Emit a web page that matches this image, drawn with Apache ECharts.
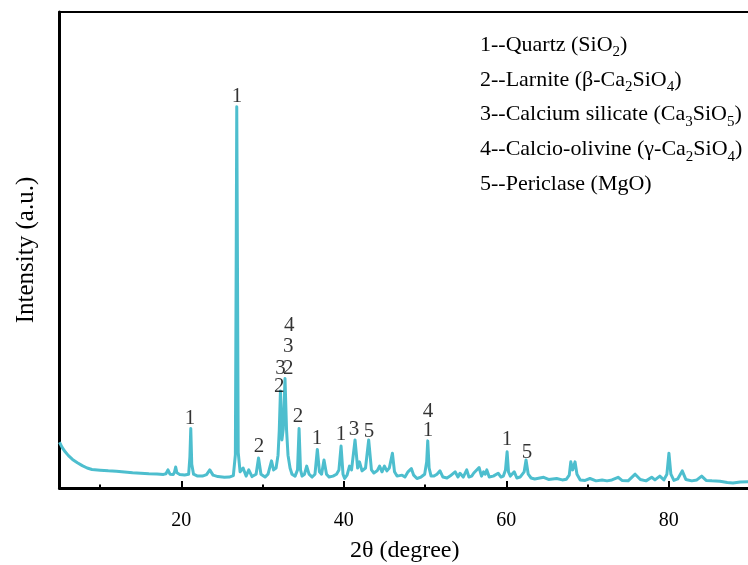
<!DOCTYPE html>
<html>
<head>
<meta charset="utf-8">
<script src="https://cdn.jsdelivr.net/npm/echarts@6/dist/echarts.min.js"></script>
<style>
  html, body { margin: 0; padding: 0; background: #fff; }
  #chart { width: 748px; height: 565px; }
</style>
</head>
<body>
<div id="chart"></div>
<script>
// XRD pattern: [2θ (degree), intensity (a.u.)]
const pattern = [
  [5.0, 9.6], [5.3, 8.6], [5.7, 7.6], [6.1, 6.8], [6.6, 6.0], [7.2, 5.3], [7.8, 4.7],
  [8.4, 4.2], [9.0, 3.9], [10.0, 3.75], [11.0, 3.6], [12.0, 3.5], [13.0, 3.35],
  [14.0, 3.2], [15.0, 3.1], [16.0, 3.0], [17.0, 2.95], [17.8, 2.85], [18.1, 3.0],
  [18.35, 3.8], [18.6, 2.9], [19.0, 2.85], [19.15, 3.3], [19.3, 4.4], [19.45, 3.2],
  [19.8, 2.85], [20.4, 2.75], [20.9, 2.9], [21.05, 6.5], [21.16, 12.5], [21.28, 5.0],
  [21.5, 2.9], [22.0, 2.5], [22.6, 2.5], [23.1, 2.8], [23.5, 3.8], [23.9, 2.7],
  [24.5, 2.4], [25.3, 2.25], [25.9, 2.3], [26.4, 2.6], [26.65, 7.0], [26.76, 52],
  [26.82, 80.1], [26.9, 50], [27.0, 7.5], [27.23, 3.4], [27.6, 4.2], [27.97, 2.5],
  [28.3, 3.8], [28.7, 2.4], [29.2, 2.9], [29.5, 6.3], [29.8, 2.9], [30.3, 2.3],
  [30.67, 2.9], [31.1, 5.7], [31.35, 3.8], [31.66, 4.2], [31.9, 6.9], [32.05, 12],
  [32.2, 20.4], [32.38, 10.1], [32.55, 12.5], [32.76, 23.0], [32.95, 12.2],
  [33.13, 6.9], [33.38, 4.2], [33.62, 2.9], [34.0, 2.5], [34.3, 3.8], [34.49, 12.5],
  [34.67, 3.8], [34.86, 2.5], [35.16, 2.9], [35.43, 4.6], [35.72, 2.9], [36.1, 2.3],
  [36.45, 2.9], [36.74, 8.1], [37.0, 3.4], [37.26, 2.9], [37.56, 5.9], [37.87, 2.9],
  [38.18, 2.3], [38.67, 2.5], [39.1, 2.9], [39.4, 3.8], [39.66, 8.8], [39.9, 2.9],
  [40.1, 2.0], [40.4, 2.7], [40.7, 4.6], [40.95, 3.8], [41.38, 10.1], [41.7, 4.2],
  [41.93, 5.5], [42.24, 3.6], [42.67, 4.2], [43.06, 10.1], [43.4, 3.8], [43.7, 3.15],
  [44.1, 3.6], [44.4, 4.6], [44.7, 3.4], [45.0, 4.6], [45.3, 3.6], [45.6, 4.2],
  [45.98, 7.3], [46.24, 3.4], [46.55, 2.5], [47.17, 2.7], [47.53, 2.3], [47.9, 3.4],
  [48.31, 4.1], [48.6, 2.7], [49.0, 2.0], [49.5, 2.3], [49.95, 2.9], [50.2, 5.5],
  [50.33, 9.9], [50.5, 4.2], [50.74, 2.5], [51.1, 2.5], [51.47, 2.9], [51.84, 3.6],
  [52.2, 2.3], [52.7, 2.1], [53.07, 2.5], [53.7, 3.4], [54.05, 2.3], [54.3, 3.1],
  [54.7, 2.3], [55.13, 3.8], [55.4, 2.3], [55.74, 2.5], [56.0, 3.15], [56.65, 4.3],
  [56.95, 2.5], [57.2, 3.4], [57.4, 2.9], [57.6, 3.8], [57.9, 2.3], [58.4, 2.5],
  [59.0, 3.1], [59.35, 2.3], [59.64, 2.5], [59.9, 3.8], [60.1, 7.6], [60.27, 3.4],
  [60.5, 2.5], [60.98, 3.4], [61.3, 2.1], [61.7, 2.3], [62.2, 3.4], [62.43, 5.9],
  [62.7, 2.9], [63.05, 2.1], [63.5, 1.9], [64.6, 2.25], [65.2, 1.8], [66.2, 2.0],
  [66.9, 1.7], [67.4, 1.85], [67.75, 2.7], [67.94, 5.5], [68.17, 3.8], [68.46, 5.5],
  [68.7, 2.9], [69.1, 1.7], [69.7, 1.6], [70.3, 2.0], [71.05, 1.5], [71.8, 1.7],
  [72.4, 1.5], [73.0, 1.7], [73.76, 2.25], [74.24, 1.6], [75.0, 1.5], [75.86, 2.9],
  [76.5, 1.8], [77.2, 1.5], [77.9, 2.25], [78.3, 1.7], [78.9, 2.5], [79.4, 1.7],
  [79.77, 2.9], [80.02, 7.3], [80.26, 2.9], [80.63, 1.6], [81.1, 1.9], [81.66, 3.6],
  [82.1, 1.8], [82.83, 1.5], [83.46, 1.7], [84.05, 2.5], [84.6, 1.6], [85.3, 1.5],
  [86.3, 1.4], [87.2, 1.15], [87.9, 1.05], [88.8, 1.25], [90.0, 1.3]
];

// Phase markers above the reflections (data coordinates of each number)
const markTheta     = [21.07, 26.86, 29.56, 32.06, 32.21, 33.17, 33.17, 33.29, 34.36, 36.7, 39.66, 41.26, 43.1, 50.36, 50.36, 60.08, 62.54];
const markIntensity = [14.7, 82.35, 8.82, 21.4, 25.2, 25.2, 29.7, 34.2, 15.1, 10.5, 11.3, 12.2, 11.8, 16.0, 12.0, 10.1, 7.56];
const markText      = ['1', '1', '2', '2', '3', '2', '3', '4', '2', '1', '1', '3', '5', '4', '1', '1', '5'];

const majorTicks = [20, 40, 60, 80];
const minorTicks = [10, 30, 50, 70];

const phaseKey = [
  '1--Quartz (SiO{s|2})',
  '2--Larnite (β-Ca{s|2}SiO{s|4})',
  '3--Calcium silicate (Ca{s|3}SiO{s|5})',
  '4--Calcio-olivine (γ-Ca{s|2}SiO{s|4})',
  '5--Periclase (MgO)'
];

const serif = '"Liberation Serif", "Times New Roman", serif';
const chart = echarts.init(document.getElementById('chart'), null, { renderer: 'canvas' });

const option = {
  animation: false,
  backgroundColor: '#fff',
  grid: {
    left: 59.5, right: -2, top: 12, bottom: 77,
    outerBoundsMode: 'none',
    containLabel: false,
    show: true, borderColor: '#000', borderWidth: 2
  },
  xAxis: [
    {
      type: 'value', min: 5, max: 90,
      axisLine: { show: true, onZero: false, lineStyle: { color: '#000', width: 3 } },
      axisTick: { show: true, inside: true, length: 7, customValues: majorTicks, lineStyle: { color: '#000', width: 2 } },
      axisLabel: { customValues: majorTicks, fontFamily: serif, fontSize: 20, color: '#000', margin: 23 },
      splitLine: { show: false },
      name: '2θ (degree)', nameLocation: 'middle', nameGap: 51,
      nameTextStyle: { fontFamily: serif, fontSize: 24, color: '#000' }
    },
    {
      type: 'value', min: 5, max: 90, position: 'bottom',
      axisLine: { show: false, onZero: false },
      axisTick: { show: true, inside: true, length: 3.5, customValues: minorTicks, lineStyle: { color: '#000', width: 2 } },
      axisLabel: { show: false },
      splitLine: { show: false }
    }
  ],
  yAxis: {
    type: 'value', min: 0, max: 100,
    axisLine: { show: true, lineStyle: { color: '#000', width: 3 } },
    axisTick: { show: false },
    axisLabel: { show: false },
    splitLine: { show: false },
    name: 'Intensity (a.u.)', nameLocation: 'middle', nameGap: 21,
    nameTextStyle: { fontFamily: serif, fontSize: 25, color: '#000' }
  },
  series: [
    {
      type: 'line',
      xAxisIndex: 0,
      data: pattern,
      showSymbol: false,
      smooth: false,
      lineStyle: { color: '#4DBECE', width: 3, join: 'round' },
      z: 2
    },
    {
      type: 'scatter',
      xAxisIndex: 0,
      data: markTheta.map((t, i) => [t, markIntensity[i], markText[i]]),
      encode: { x: 0, y: 1 },
      symbolSize: 0,
      silent: true,
      label: {
        show: true, position: 'inside',
        formatter: p => p.value[2],
        fontFamily: serif, fontSize: 21, color: '#000',
        textBorderWidth: 0, textShadowBlur: 0
      },
      z: 3
    }
  ],
  graphic: phaseKey.map((line, i) => ({
    type: 'text',
    x: 480,
    y: 45 + i * 34.8,
    style: {
      text: line,
      fill: '#000',
      fontFamily: serif,
      fontSize: 22,
      lineHeight: 30,
      verticalAlign: 'middle',
      rich: {
        s: { fontFamily: serif, fontSize: 15, fill: '#000', lineHeight: 30, verticalAlign: 'bottom' }
      }
    }
  }))
};

chart.setOption(option);
</script>
</body>
</html>
